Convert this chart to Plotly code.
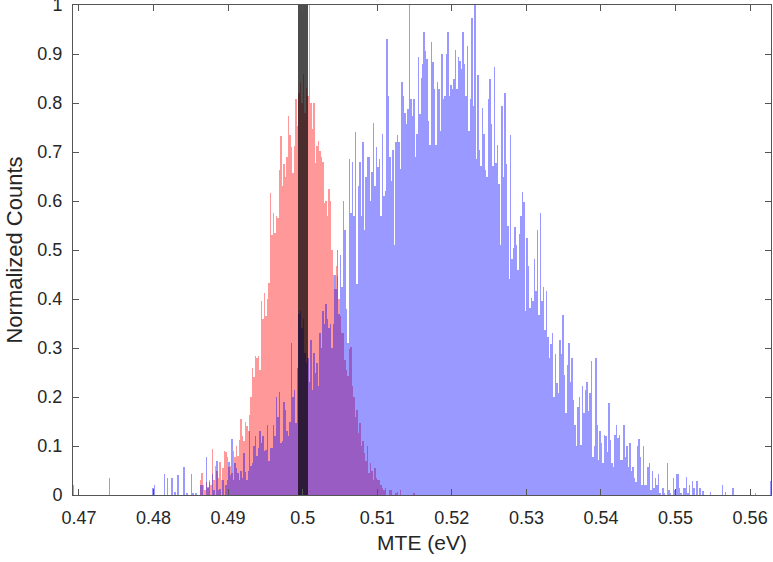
import plotly.graph_objects as go

# ---------------- data (normalized histogram counts) ----------------
BIN_WIDTH = 0.0002          # common histogram bin width (eV)
BLUE_START = 0.4692         # left edge of first blue bin (eV)
RED_START = 0.4860          # left edge of first red bin (eV)
BLACK_START = 0.49933       # left edge of black bin (eV)
BLACK_WIDTH = 0.00134

BLUE_TAIL_LEFT = [
    0.02, 0, 0, 0, 0, 0, 0, 0, 0, 0, 0, 0, 0, 0, 0, 0, 0, 0, 0, 0,
    0, 0, 0, 0, 0.035, 0, 0, 0, 0, 0, 0, 0, 0, 0, 0, 0, 0, 0, 0, 0,
    0, 0, 0, 0, 0, 0, 0, 0, 0, 0, 0, 0, 0, 0.015, 0.02, 0, 0, 0, 0, 0,
    0, 0.042, 0, 0.035, 0, 0, 0.035, 0, 0.007, 0, 0.04, 0, 0, 0, 0.057, 0,
    0.005, 0, 0, 0.042, 0.005, 0, 0.005, 0, 0, 0.02, 0.02, 0, 0, 0.078,
    0.017, 0.027, 0, 0.042, 0.01, 0, 0.07, 0.01, 0.013, 0, 0.03, 0, 0.02, 0.03,
    0.068, 0.04, 0.114, 0.03, 0.065, 0.055, 0.045, 0.03, 0.05, 0.035, 0.085, 0.046,
    0.03, 0.05, 0.13, 0.06, 0.065, 0.10, 0.12, 0.08, 0.095, 0.13, 0.106, 0.12,
    0.09, 0.092, 0.143, 0.07, 0.095, 0.095, 0.143, 0.12, 0.2, 0.16, 0.21, 0.106,
    0.11, 0.19, 0.174, 0.13, 0.12, 0.15, 0.31, 0.2, 0.215, 0.146, 0.26, 0.37,
    0.375, 0.34, 0.36, 0.29, 0.27, 0.28, 0.23, 0.317, 0.215, 0.29, 0.25, 0.27,
    0.222, 0.33, 0.30, 0.375, 0.35, 0.39, 0.36, 0.34,
]

BLUE_RISE = [
    0.35, 0.30, 0.35, 0.45, 0.42, 0.50, 0.37, 0.49, 0.425, 0.60,
    0.54, 0.38, 0.31, 0.685, 0.576, 0.68, 0.57, 0.74, 0.43, 0.63,
    0.68, 0.57, 0.72, 0.54, 0.65, 0.69, 0.69, 0.60, 0.66, 0.76,
    0.63, 0.71, 0.67, 0.685, 0.57, 0.736, 0.61, 0.62, 0.93, 0.815,
    0.69, 0.64, 0.705, 0.51, 0.72, 0.734, 0.72, 0.665, 0.843, 0.815,
    0.78, 0.757, 0.787, 1.0, 0.808, 0.774, 0.808, 0.69, 0.736, 0.893,
    0.777, 0.852, 0.88, 0.944, 0.907, 0.89, 0.763, 0.714, 0.924, 0.883,
    0.828, 0.714, 0.843, 0.828, 0.743, 0.9, 0.808, 0.815, 0.9, 0.944,
    0.815, 0.836, 0.828, 0.85, 0.908, 0.828, 0.893, 0.886, 0.87, 0.944,
    0.88, 0.815, 0.917, 0.743, 0.808,
]

BLUE_FALL = [
    0.973, 0.794, 1.0, 0.685, 0.857, 0.705, 0.671, 0.79, 0.736, 0.663,
    0.65, 0.808, 0.85, 0.757, 0.671, 0.873, 0.678, 0.714, 0.634, 0.511,
    0.793, 0.649, 0.821, 0.676, 0.549, 0.44, 0.734, 0.482, 0.504, 0.547,
    0.511, 0.46, 0.533, 0.569, 0.618, 0.598, 0.375, 0.525, 0.468, 0.382,
    0.402, 0.395, 0.482, 0.417, 0.54, 0.368, 0.576, 0.395, 0.425, 0.337,
    0.416, 0.322, 0.28, 0.309, 0.33, 0.2, 0.288, 0.228, 0.208, 0.317,
    0.288, 0.368, 0.245, 0.167, 0.266, 0.31, 0.23, 0.28, 0.194, 0.143,
    0.1, 0.18, 0.2, 0.102, 0.223, 0.167, 0.215, 0.23, 0.172, 0.208,
    0.273, 0.078, 0.1, 0.28, 0.143, 0.072, 0.13, 0.106, 0.065, 0.123,
    0.12, 0.087, 0.187, 0.112,
]

BLUE_TAIL_RIGHT = [
    0.065, 0.058, 0.123, 0.143, 0.116, 0.123, 0.072, 0.072, 0.143, 0.078,
    0.1, 0.058, 0.107, 0.048, 0.058, 0.034, 0.027, 0.1, 0.114, 0.078,
    0.02, 0.1, 0.02, 0.02, 0.057, 0.065, 0.01, 0.05, 0.014, 0.034,
    0.02, 0.043, 0.005, 0, 0.014, 0.005, 0, 0.065, 0.01, 0.005,
    0, 0.034, 0.01, 0.043, 0.043, 0.014, 0.005, 0, 0.014, 0.014,
    0.036, 0.005, 0.02, 0, 0.029, 0.014, 0, 0.029, 0, 0.014,
    0, 0.008, 0, 0, 0, 0, 0.006, 0, 0, 0,
    0, 0, 0, 0, 0.02, 0, 0.006, 0, 0, 0,
    0, 0.015, 0, 0, 0, 0, 0, 0, 0, 0,
    0, 0, 0, 0, 0, 0, 0.005, 0, 0, 0,
    0, 0, 0, 0, 0, 0, 0.028,
]

RED = [
    0, 0.03, 0.044, 0.02, 0.01, 0.027, 0.015, 0.03, 0.02, 0.094,
    0.03, 0.06, 0.05, 0.035, 0.068, 0.03, 0.055, 0.089, 0.087, 0.078,
    0.058, 0.06, 0.044, 0.089, 0.078, 0.1, 0.08, 0.112, 0.155, 0.12,
    0.11, 0.15, 0.14, 0.13, 0.164, 0.2, 0.26, 0.24, 0.283, 0.28,
    0.284, 0.255, 0.395, 0.36, 0.412, 0.365, 0.4, 0.433, 0.617, 0.53,
    0.576, 0.534, 0.57, 0.565, 0.663, 0.733, 0.63, 0.675, 0.65, 0.69,
    0.774, 0.735, 0.71, 0.658, 0.712, 0.808, 0.753, 0.82, 0.84, 0.80,
    0.86, 0.78, 0.83, 0.815, 1.0, 0.8, 0.746, 0.8, 0.678, 0.712,
    0.722, 0.702, 0.69, 0.68, 0.596, 0.6, 0.569, 0.624, 0.6, 0.5,
    0.45, 0.42, 0.467, 0.446, 0.4, 0.365, 0.33, 0.33, 0.276, 0.256,
    0.242, 0.297, 0.303, 0.222, 0.2, 0.16, 0.174, 0.126, 0.147, 0.1,
    0.11, 0.085, 0.07, 0.1, 0.044, 0.065, 0.05, 0.03, 0.055, 0.035,
    0.03, 0.03, 0.02, 0.015, 0.01, 0.014, 0, 0, 0.01, 0.01,
    0, 0, 0.005, 0.007, 0, 0.01, 0, 0, 0, 0,
    0, 0, 0, 0, 0.005,
]

BLACK = [1.0]

X_TICKS = [0.47, 0.48, 0.49, 0.50, 0.51, 0.52, 0.53, 0.54, 0.55, 0.56]
X_TICK_TEXT = ["0.47", "0.48", "0.49", "0.5", "0.51", "0.52", "0.53", "0.54", "0.55", "0.56"]
Y_TICKS = [0, 0.1, 0.2, 0.3, 0.4, 0.5, 0.6, 0.7, 0.8, 0.9, 1.0]
Y_TICK_TEXT = ["0", "0.1", "0.2", "0.3", "0.4", "0.5", "0.6", "0.7", "0.8", "0.9", "1"]
X_LABEL = "MTE (eV)"
Y_LABEL = "Normalized Counts"

# ---------------- build ----------------
blue = BLUE_TAIL_LEFT + BLUE_RISE + BLUE_FALL + BLUE_TAIL_RIGHT
blue_x = [BLUE_START + BIN_WIDTH * (i + 0.5) for i in range(len(blue))]
red_x = [RED_START + BIN_WIDTH * (i + 0.5) for i in range(len(RED))]
black_x = [BLACK_START + BLACK_WIDTH * (i + 0.5) for i in range(len(BLACK))]

FONT = "Liberation Sans, Arial, sans-serif"
TEXT_COLOR = "#262626"

fig = go.Figure()
fig.add_bar(x=red_x, y=RED, width=BIN_WIDTH,
            marker=dict(color="rgba(255,0,0,0.4)", line=dict(width=0)),
            showlegend=False)
fig.add_bar(x=blue_x, y=blue, width=BIN_WIDTH,
            marker=dict(color="rgba(0,0,255,0.4)", line=dict(width=0)),
            showlegend=False)
fig.add_bar(x=black_x, y=BLACK, width=BLACK_WIDTH,
            marker=dict(color="rgba(0,0,0,0.7)", line=dict(width=0)),
            showlegend=False)

axis_common = dict(
    showline=True, linecolor="#555555", linewidth=1, mirror="ticks",
    ticks="inside", ticklen=6, tickcolor="#555555", tickwidth=1,
    showgrid=False, zeroline=False, automargin=False,
    ticklabeloverflow="allow",
    tickfont=dict(family=FONT, size=18, color=TEXT_COLOR),
)

fig.update_layout(
    width=773, height=562,
    margin=dict(l=73, r=2, t=5, b=67),
    paper_bgcolor="white", plot_bgcolor="white",
    barmode="overlay", bargap=0,
    xaxis=dict(range=[BLUE_START, BLUE_START + BIN_WIDTH * len(blue)],
               tickvals=X_TICKS, ticktext=X_TICK_TEXT, ticklabelstandoff=6,
               title=dict(text=X_LABEL, standoff=8,
                          font=dict(family=FONT, size=21, color=TEXT_COLOR)),
               **axis_common),
    yaxis=dict(range=[0, 1], tickvals=Y_TICKS, ticktext=Y_TICK_TEXT,
               ticklabelstandoff=6,
               title=dict(text=Y_LABEL, standoff=8,
                          font=dict(family=FONT, size=22, color=TEXT_COLOR)),
               **axis_common),
)

fig.write_html("out.html",
               config={"displayModeBar": False},
               post_script="document.body.style.margin='0px';document.body.style.overflow='hidden';")
